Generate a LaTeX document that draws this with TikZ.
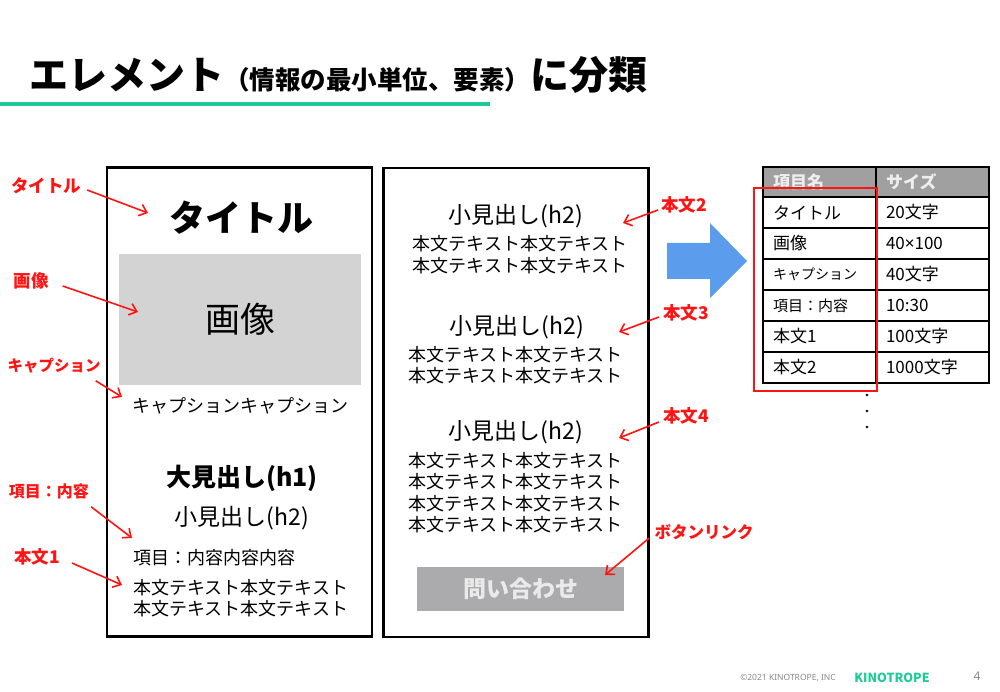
\documentclass[tikz,border=0pt]{standalone}
\usepackage{fontspec}
\setmainfont{Noto Sans CJK JP}
\newfontfamily\latinsans{Noto Sans}
\usetikzlibrary{arrows.meta}
\definecolor{kgreen}{HTML}{1DCB96}
\definecolor{kred}{HTML}{FF1414}
\definecolor{imggray}{HTML}{D3D3D3}
\definecolor{btngray}{HTML}{ABABAE}
\definecolor{btntext}{HTML}{EAEAEA}
\definecolor{hdrgray}{HTML}{A0A0A0}
\definecolor{hdrtext}{HTML}{EEEEEE}
\definecolor{kblue}{HTML}{5B9CEC}
\definecolor{footgray}{HTML}{8A8A8A}
\newcommand\fsz[1]{\fontsize{#1}{#1}\selectfont}
\begin{document}
\begin{tikzpicture}[x=1pt,y=-1pt,
  pagebox/.style={draw, line width=2.6pt, minimum width=265, minimum height=469, inner sep=0},
  plain/.style={inner sep=0},
  lbl/.style={inner sep=0, text=kred, font=\bfseries\fsz{17.5}},
  redarr/.style={draw=kred, line width=1.6pt, -{Straight Barb[length=7pt,width=12pt]}},
  bodytxt/.style={inner sep=0, font=\fontsize{18}{21.5}\selectfont},
  htwo/.style={inner sep=0, font=\fsz{23}},
  cell/.style={draw, line width=1.3pt, minimum height=31, inner xsep=10pt, inner ysep=0, text width=93, align=left},
  hcell/.style={cell, minimum height=30, fill=hdrgray, text=hdrtext, font=\bfseries\fsz{17}}
]
\useasboundingbox (0,0) rectangle (1000,692);
\fill[white] (0,0) rectangle (1000,692);

% title
\node[plain, anchor=west, font=\bfseries] (title) at (29,75)
  {\fsz{39}エレメント\fsz{25.5}（情報の最小単位、要素）\fsz{39}に分類};
\coordinate (gl0) at (0,104);
\coordinate (gl1) at (490,104);
\draw[kgreen, line width=4pt] (gl0) -- (gl1);

% left page
\node[pagebox] (lbox) at (239.5,402) {};
\node[plain, font=\bfseries\fsz{36}] (ttl) at (241,218) {タイトル};
\node[plain, fill=imggray, minimum width=242, minimum height=131] (img) at (240,319.5) {\fsz{35}画像};
\node[plain, font=\fsz{18}] (cap) at (240,406) {キャプションキャプション};
\node[plain, font=\bfseries\fsz{25}] (h1) at (242,478) {大見出し(h1)};
\node[htwo] (h2a) at (242,518) {小見出し(h2)};
\node[plain, anchor=west, font=\fsz{18}] (item) at (133,558) {項目：内容内容内容};
\node[bodytxt, anchor=west, align=left] (body1) at (133,598) {本文テキスト本文テキスト\\本文テキスト本文テキスト};

% middle page
\node[pagebox] (mbox) at (516,402.5) {};
\node[htwo] (h2b) at (516,216) {小見出し(h2)};
\node[bodytxt, align=center] (body2) at (520,254.5) {本文テキスト本文テキスト\\本文テキスト本文テキスト};
\node[htwo] (h2c) at (517,327) {小見出し(h2)};
\node[bodytxt, align=center] (body3) at (515.5,365) {本文テキスト本文テキスト\\本文テキスト本文テキスト};
\node[htwo] (h2d) at (516,432) {小見出し(h2)};
\node[bodytxt, align=center] (body4) at (515.5,492.5) {本文テキスト本文テキスト\\本文テキスト本文テキスト\\本文テキスト本文テキスト\\本文テキスト本文テキスト};
\node[plain, fill=btngray, minimum width=207, minimum height=44, text=btntext, font=\bfseries\fsz{23}] (btn) at (520.5,589) {問い合わせ};

% blue arrow
\fill[kblue] (667,243) -- (710,243) -- (710,223) -- (747,261) -- (710,298) -- (710,279) -- (667,279) -- cycle;

% table
\node[hcell] (th1) at (819.5,182) {項目名};
\node[hcell] (th2) at (932.5,182) {サイズ};
\node[cell, font=\fsz{17}] (a1) at (819.5,212.5) {タイトル};
\node[cell, font=\fsz{17}] (b1) at (932.5,212.5) {20文字};
\node[cell, font=\fsz{17}] (a2) at (819.5,243.5) {画像};
\node[cell, font=\fsz{17}] (b2) at (932.5,243.5) {40{\latinsans ×}100};
\node[cell, font=\fsz{14}] (a3) at (819.5,274.5) {キャプション};
\node[cell, font=\fsz{17}] (b3) at (932.5,274.5) {40文字};
\node[cell, font=\fsz{15}] (a4) at (819.5,305.5) {項目：内容};
\node[cell, font=\fsz{17}] (b4) at (932.5,305.5) {10:30};
\node[cell, font=\fsz{17}] (a5) at (819.5,336.5) {本文1};
\node[cell, font=\fsz{17}] (b5) at (932.5,336.5) {100文字};
\node[cell, font=\fsz{17}] (a6) at (819.5,367.5) {本文2};
\node[cell, font=\fsz{17}] (b6) at (932.5,367.5) {1000文字};
\node[draw=kred, line width=2pt, minimum width=123, minimum height=202, inner sep=0] (redbox) at (815,289.5) {};
\foreach \yy/\nm in {395/d1,411/d2,427/d3}
  \node[circle, fill=black, inner sep=0, minimum size=2.6pt] (\nm) at (867,\yy) {};

% red labels and arrows
\node[lbl] (L1) at (46,186) {タイトル};
\node[lbl] (L2) at (31,281) {画像};
\node[lbl, font=\bfseries\fsz{15.5}] (L3) at (54,366) {キャプション};
\node[lbl, font=\bfseries\fsz{16}] (L4) at (49,491) {項目：内容};
\node[lbl] (L5) at (37,557) {本文1};
\node[lbl] (R1) at (684,205) {本文2};
\node[lbl] (R2) at (686,313) {本文3};
\node[lbl] (R3) at (686,416) {本文4};
\node[lbl, font=\bfseries\fsz{16.5}] (R4) at (704,532) {ボタンリンク};
\coordinate (t1) at (148,213);
\coordinate (t2) at (138,312);
\coordinate (t3) at (122,397);
\coordinate (t4) at (132,538);
\coordinate (t5) at (122,585);
\coordinate (t6) at (623,223);
\coordinate (t7) at (619,332);
\coordinate (t8) at (619,438);
\coordinate (t9) at (605,575);
\draw[redarr] ([shift={(6,4)}]L1.east) -- (t1);
\draw[redarr] ([shift={(14,5)}]L2.east) -- (t2);
\draw[redarr] ([shift={(-5,7)}]L3.south east) -- (t3);
\draw[redarr] ([shift={(2,8)}]L4.south east) -- (t4);
\draw[redarr] ([shift={(12,6)}]L5.east) -- (t5);
\draw[redarr] ([shift={(-3,5)}]R1.west) -- (t6);
\draw[redarr] ([shift={(-4,4)}]R2.west) -- (t7);
\draw[redarr] ([shift={(-4,6)}]R3.west) -- (t8);
\draw[redarr] ([shift={(-5,6)}]R4.west) -- (t9);

% footer
\node[plain, text=footgray, font=\latinsans\fsz{8.5}] (copy) at (788,678) {©2021 KINOTROPE, INC};
\node[plain, text=kgreen, font=\bfseries\fsz{12.5}] (logo) at (892,678) {KINOTROPE};
\node[plain, text=footgray, font=\latinsans\fsz{12}] (pg) at (977,676) {4};
\end{tikzpicture}
\end{document}
